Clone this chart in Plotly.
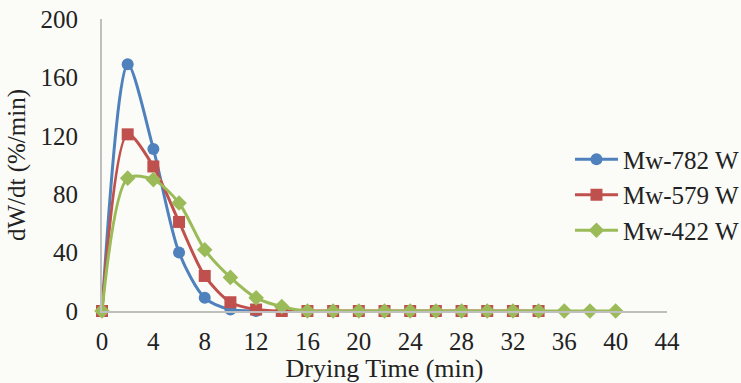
import plotly.graph_objects as go

x_782 = [0, 2, 4, 6, 8, 10, 12]
y_782 = [0, 169, 111, 40, 9, 1, 0]

x_579 = [0, 2, 4, 6, 8, 10, 12, 14, 16, 18, 20, 22, 24, 26, 28, 30, 32, 34]
y_579 = [0, 121, 99, 61, 24, 6, 1, 0, 0, 0, 0, 0, 0, 0, 0, 0, 0, 0]

x_422 = [0, 2, 4, 6, 8, 10, 12, 14, 16, 18, 20, 22, 24, 26, 28, 30, 32, 34, 36, 38, 40]
y_422 = [0, 91, 90, 74, 42, 23, 9, 3, 0, 0, 0, 0, 0, 0, 0, 0, 0, 0, 0, 0, 0]

names = ["Mw-782 W", "Mw-579 W", "Mw-422 W"]
x_ticks = [0, 4, 8, 12, 16, 20, 24, 28, 32, 36, 40, 44]
y_ticks = [0, 40, 80, 120, 160, 200]

fig = go.Figure()
fig.add_trace(go.Scatter(x=x_782, y=y_782, name=names[0], mode="lines+markers",
                         line=dict(color="#4F81BD", width=3, shape="spline", smoothing=0.8),
                         marker=dict(symbol="circle", size=12, color="#4F81BD"), cliponaxis=False))
fig.add_trace(go.Scatter(x=x_579, y=y_579, name=names[1], mode="lines+markers",
                         line=dict(color="#C0504D", width=3, shape="spline", smoothing=0.8),
                         marker=dict(symbol="square", size=12, color="#C0504D"), cliponaxis=False))
fig.add_trace(go.Scatter(x=x_422, y=y_422, name=names[2], mode="lines+markers",
                         line=dict(color="#9BBB59", width=3, shape="spline", smoothing=0.8),
                         marker=dict(symbol="diamond", size=12, color="#9BBB59"), cliponaxis=False))

font = "Liberation Serif"
fig.update_layout(
    width=741, height=383,
    margin=dict(l=102, r=74, t=19, b=72, autoexpand=False),
    paper_bgcolor="#fbfcf8", plot_bgcolor="#fbfcf8",
    font=dict(family=font, size=25, color="#222222"),
    showlegend=True,
    legend=dict(xref="container", yref="container", x=0.7692, y=0.4909,
                xanchor="left", yanchor="middle",
                bgcolor="rgba(0,0,0,0)", font=dict(size=25, family=font),
                tracegroupgap=8, itemwidth=43),
)
fig.update_xaxes(range=[0, 44], tickvals=x_ticks, ticktext=[str(v) for v in x_ticks],
                 showgrid=False, zeroline=False, showline=True, linecolor="#BFBFBF", linewidth=2,
                 ticks="", ticklabelstandoff=7, tickfont=dict(size=25), ticklabeloverflow="allow",
                 title=dict(text="Drying Time (min)", standoff=6, font=dict(size=26)), automargin=False)
fig.update_yaxes(range=[0, 200], tickvals=y_ticks, ticktext=[str(v) for v in y_ticks],
                 showgrid=False, zeroline=False, showline=True, linecolor="#BFBFBF", linewidth=2,
                 ticks="", ticklabelstandoff=17, tickfont=dict(size=25), ticklabeloverflow="allow",
                 title=dict(text="dW/dt (%/min)", standoff=8, font=dict(size=25)), automargin=False)

fig.write_html("out.html", config={"displayModeBar": False},
               post_script="document.body.style.margin='0';document.body.style.background='#fbfcf8';")
